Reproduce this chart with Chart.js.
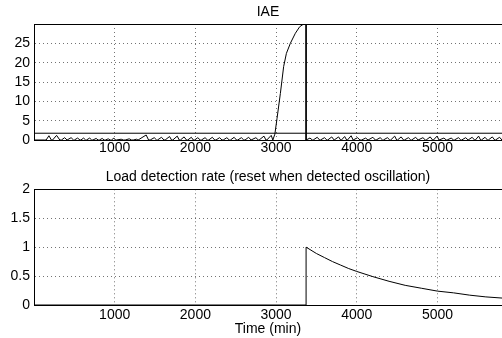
<!DOCTYPE html>
<html>
<head>
<meta charset="utf-8">
<script src="https://cdn.jsdelivr.net/npm/chart.js@4"></script>
<style>
  body { margin: 0; background: #fff; overflow: hidden; }
  #wrap { position: relative; width: 502px; height: 338px; overflow: hidden; }
  canvas { position: absolute; left: 0; }
</style>
</head>
<body>
<div id="wrap">
  <canvas id="topChart" width="502" height="160" style="top:0"></canvas>
  <canvas id="bottomChart" width="502" height="178" style="top:160px"></canvas>
</div>
<script>
// eixo x comum (minutos)
const xTicks = [1000, 2000, 3000, 4000, 5000];
const iaeTicks = [0, 5, 10, 15, 20, 25];
const rateTicks = [0, 0.5, 1, 1.5, 2];

// IAE
const iaeTime = [
  0, 130, 150, 185, 215, 230, 280, 320, 340, 380, 410, 420, 460, 490,
  500, 540, 570, 580, 615, 640, 650, 690, 715, 730, 770, 795, 810, 845, 870,
  885, 920, 945, 960, 990, 1010, 1020, 1080, 1110, 1130, 1180, 1210, 1230, 1270, 1290,
  1300, 1390, 1420, 1440, 1490, 1520, 1530, 1580, 1610, 1625, 1680, 1705,
  1720, 1775, 1800, 1815, 1860, 1890, 1905, 1950, 1975, 1990, 2030, 2060,
  2075, 2120, 2150, 2165, 2210, 2240, 2255, 2300, 2330, 2345, 2390, 2420,
  2435, 2480, 2510, 2525, 2570, 2600, 2615, 2660, 2690, 2700, 2750, 2780,
  2790, 2850, 2875, 2885, 2940, 2960,
  2985, 3012, 3053, 3094, 3128, 3177, 3239, 3293, 3342, 3372, 3372,
  3420, 3450, 3460, 3510, 3540, 3550, 3600, 3630, 3640, 3690, 3720,
  3730, 3775, 3800, 3810, 3850, 3875, 3885, 3930, 3955, 3965, 4010, 4040,
  4060, 4110, 4140, 4150, 4200, 4230, 4240, 4290, 4320, 4330, 4380, 4410,
  4420, 4470, 4495, 4505, 4550, 4580, 4590, 4640, 4670, 4680, 4730, 4760,
  4770, 4820, 4850, 4860, 4910, 4940, 4950, 4995, 5020, 5030, 5080, 5110,
  5120, 5170, 5200, 5210, 5260, 5290, 5300, 5350, 5380, 5390, 5430, 5460,
  5470, 5510, 5535, 5545, 5590, 5620, 5630, 5680, 5710, 5720, 5770, 5800, 5820
];
const iaeValue = [
  0, 0, 0, 1.1, 0, 0, 1.2, 0, 0, 0.6, 0, 0, 0.6, 0,
  0, 0.5, 0, 0, 0.5, 0, 0, 0.5, 0, 0, 0.4, 0, 0, 0.4, 0,
  0, 0.3, 0, 0, 0.5, 0, 0, 0.2, 0, 0, 0.3, 0, 0, 0.2, 0,
  0, 1.3, 0, 0, 0.6, 0, 0, 0.7, 0, 0, 0.9, 0,
  0, 1.0, 0, 0, 0.8, 0, 0, 0.7, 0, 0, 0.6, 0,
  0, 0.6, 0, 0, 0.7, 0, 0, 0.6, 0, 0, 0.6, 0,
  0, 0.7, 0, 0, 0.6, 0, 0, 0.7, 0, 0, 0.6, 0,
  0, 1.0, 0, 0, 1.2, 0,
  1.5, 5.6, 12, 19, 22.4, 25, 27.6, 29.3, 30, 30.5, 0,
  0.5, 0, 0, 0.7, 0, 0, 0.6, 0, 0, 0.8, 0,
  0, 0.8, 0, 0, 0.9, 0, 0, 1.1, 0, 0, 0.6, 0,
  0, 0.5, 0, 0, 0.7, 0, 0, 0.6, 0, 0, 0.6, 0,
  0, 1.0, 0, 0, 0.8, 0, 0, 0.6, 0, 0, 0.7, 0,
  0, 0.6, 0, 0, 0.8, 0, 0, 1.0, 0, 0, 0.5, 0,
  0, 0.5, 0, 0, 0.6, 0, 0, 0.6, 0, 0, 0.7, 0,
  0, 1.0, 0, 0, 0.7, 0, 0, 0.8, 0, 0, 0.7, 0, 0
];
const thresholdTime = [0, 5800];
const thresholdValue = [1.75, 1.75];

// taxa de detecção de carga
const rateTime = [0, 3372, 3372, 3500, 3600, 3700, 3800, 3900, 4000, 4200, 4400, 4600, 4800, 5000, 5200, 5400, 5600, 5800];
const rateValue = [0, 0, 1.0, 0.89, 0.82, 0.75, 0.69, 0.63, 0.58, 0.49, 0.41, 0.34, 0.29, 0.24, 0.21, 0.17, 0.14, 0.12];

Chart.defaults.font.family = '"Liberation Sans", Arial, sans-serif';
Chart.defaults.font.size = 14;
Chart.defaults.color = '#000';

function pts(xs, ys) {
    return xs.map((x, i) => ({ x: x, y: ys[i] }));
}

// moldura superior do eixo (como no MATLAB)
const framePlugin = {
    id: 'frame',
    afterDraw(chart) {
        const a = chart.chartArea;
        const ctx = chart.ctx;
        ctx.save();
        ctx.strokeStyle = '#000';
        ctx.lineWidth = 1;
        ctx.beginPath();
        ctx.moveTo(a.left, Math.round(a.top) + 0.5);
        ctx.lineTo(a.right, Math.round(a.top) + 0.5);
        ctx.stroke();
        ctx.restore();
    }
};

function makeChart(id, cfg) {
    const lineStyle = { borderColor: '#000', borderWidth: 1, pointRadius: 0, tension: 0, fill: false };
    return new Chart(document.getElementById(id), {
        type: 'line',
        data: {
            datasets: cfg.series.map(s => Object.assign({ data: s }, lineStyle))
        },
        options: {
            responsive: false,
            animation: false,
            devicePixelRatio: 1,
            layout: { padding: 0 },
            plugins: {
                legend: { display: false },
                tooltip: { enabled: false },
                title: {
                    display: true,
                    text: cfg.title,
                    fullSize: false,
                    font: { size: 14, weight: 'normal' },
                    padding: cfg.titlePadding
                }
            },
            scales: {
                x: {
                    type: 'linear',
                    min: 0,
                    max: 5800,
                    afterBuildTicks: s => { s.ticks = xTicks.map(v => ({ value: v })); },
                    afterFit: s => { s.height = cfg.xHeight; },
                    ticks: { padding: cfg.xPad, maxRotation: 0, callback: v => String(v) },
                    grid: { color: 'rgba(0,0,0,0.55)', lineWidth: 1, drawTicks: false },
                    border: { display: true, color: '#000', width: 1, dash: [1, 3] },
                    title: cfg.xTitle ? { display: true, text: cfg.xTitle, font: { size: 14 }, padding: { top: 0, bottom: 0 } } : { display: false }
                },
                y: {
                    min: 0,
                    max: cfg.yMax,
                    afterBuildTicks: s => { s.ticks = cfg.yTicks.map(v => ({ value: v })); },
                    afterFit: s => { s.width = 34; },
                    ticks: { padding: 4, callback: v => String(v) },
                    grid: { color: 'rgba(0,0,0,0.55)', lineWidth: 1, drawTicks: false },
                    border: { display: true, color: '#000', width: 1, dash: [1, 3] }
                }
            }
        },
        plugins: [framePlugin]
    });
}

makeChart('topChart', {
    title: 'IAE',
    titlePadding: { top: 4, bottom: 3.2 },
    series: [pts(iaeTime, iaeValue), pts(thresholdTime, thresholdValue)],
    yMax: 30,
    yTicks: iaeTicks,
    xHeight: 20,
    xPad: 0
});

makeChart('bottomChart', {
    title: 'Load detection rate (reset when detected oscillation)',
    titlePadding: { top: 8.3, bottom: 4.2 },
    series: [pts(rateTime, rateValue)],
    yMax: 2,
    yTicks: rateTicks,
    xHeight: 33,
    xPad: 2,
    xTitle: 'Time (min)'
});
</script>
</body>
</html>
